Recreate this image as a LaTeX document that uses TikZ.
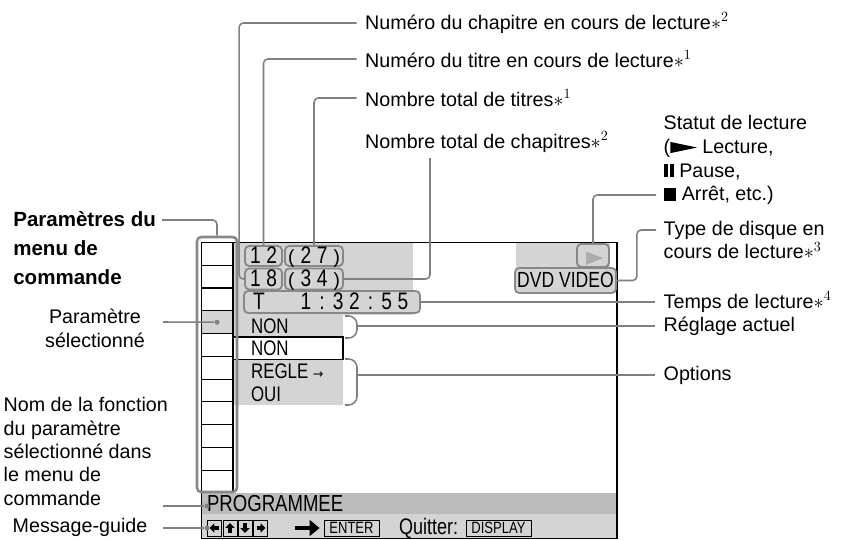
\documentclass[tikz,border=0pt]{standalone}
\usepackage{fontspec}
\usepackage{graphicx}
\setmainfont{Liberation Sans}
\newfontfamily\scrfont[FakeStretch=0.8]{Liberation Sans}
\newfontfamily\symfont{DejaVu Sans}
\usetikzlibrary{arrows.meta, calc}
\newdimen\pxu \pxu=0.025cm
\newcommand\dg[1]{\makebox[11.5pt]{#1}}
\newcommand\lpar{\scalebox{1}[0.8]{(}}
\newcommand\rpar{\scalebox{1}[0.8]{)}}
\newcommand\playsym{\tikz[baseline=0pt]\fill (0pt,0pt) -- (0pt,8pt) -- (19pt,4pt) -- cycle;}
\definecolor{lineg}{HTML}{808080}
\definecolor{scrg}{HTML}{D4D4D4}
\definecolor{barg}{HTML}{BBBBBB}
\definecolor{boxg}{HTML}{888888}

\begin{document}
\begin{tikzpicture}[x=0.025cm, y=-0.025cm,
  conn/.style={draw=lineg, line width=1.1pt, rounded corners=3pt},
  lbl/.style={anchor=west, inner xsep=6pt, inner ysep=0pt, align=left, font=\fontsize{14}{17}\selectfont},
  dispbox/.style={draw=boxg, fill=scrg, line width=1.3pt, rounded corners=3pt, inner sep=0pt, text height=11pt, text depth=1pt, font=\scrfont\fontsize{17}{18}\selectfont},
  scrtext/.style={anchor=west, inner sep=2pt, font=\scrfont\fontsize{15}{17}\selectfont},
  keybox/.style={draw=black, line width=0.6pt, fill=scrg, minimum width=14\pxu, minimum height=16\pxu, inner sep=0pt, font=\scrfont\fontsize{11.6}{12}\selectfont},
  keyarrow/.style={line width=2.2pt, -{Triangle[length=3.4pt,width=6.5pt]}},
  pin/.style={circle, fill=lineg, inner sep=0pt, minimum size=5\pxu}
]
\useasboundingbox (0,0) rectangle (841,539);

% Screen background
\fill[scrg] (233,243) rectangle (413,315);
\fill[scrg] (233,315) rectangle (343,337);
\fill[scrg] (233,359.5) rectangle (343,405);
\fill[scrg] (516,243) rectangle (610,268);
\fill[scrg] (201.5,310.8) rectangle (233,333.6);
\fill[barg] (201.5,493) rectangle (617,514);
\fill[scrg] (201.5,514) rectangle (617,539);
\draw[line width=0.8pt] (233,337) rectangle (343,359.5);
\draw[line width=1.1pt] (201.5,242.5) rectangle (617,538.5);

% Menu column
\foreach \i in {1,...,10}
  \draw[line width=0.8pt] (201.5,{242.5+\i*22.77}) -- (233,{242.5+\i*22.77});
\draw[line width=0.8pt] (233,242.5) -- (233,493);
\node[draw=boxg, line width=1.8pt, rounded corners=3pt, minimum width=40\pxu, minimum height=255\pxu] (col) at (217,364.5) {};
\node[pin] (sel) at (217,322.2) {};

% Display boxes
\node[dispbox, minimum width=37\pxu, minimum height=20\pxu] (b12) at (263.5,256) {\dg1\dg2};
\node[dispbox, minimum width=58\pxu, minimum height=20\pxu] (b27) at (314,256) {\makebox[52\pxu]{\lpar\hfill\dg2\dg7\hfill\rpar}};
\node[dispbox, minimum width=37\pxu, minimum height=21\pxu] (b18) at (263.5,279) {\dg1\dg8};
\node[dispbox, minimum width=58\pxu, minimum height=21\pxu] (b34) at (314,279) {\makebox[52\pxu]{\lpar\hfill\dg3\dg4\hfill\rpar}};
\node[dispbox, minimum width=176\pxu, minimum height=22\pxu] (tbox) at (332,302) {\makebox[158\pxu][l]{T\hfill\dg1\dg:\dg3\dg2\dg:\dg5\dg5}};
\node[dispbox, minimum width=32\pxu, minimum height=23\pxu] (play) at (593,255.5) {};
\fill[gray!65] ($(play.center)+(-7,-4)$) -- ($(play.center)+(-7,9.5)$) -- ($(play.center)+(10,2.5)$) -- cycle;
\node[dispbox, minimum width=101\pxu, minimum height=25\pxu, font=\scrfont\fontsize{15.6}{17}\selectfont] (dvd) at (565.5,280.5) {DVD VIDEO};

% Screen texts
\node[scrtext] (non1) at (248,326) {NON};
\node[scrtext] (non2) at (248,348) {NON};
\node[scrtext] (regle) at (248,371) {REGLE {\symfont\small →}};
\node[scrtext] (oui) at (248,394) {OUI};
\node[scrtext, font=\scrfont\fontsize{16.5}{18}\selectfont] (prog) at (204,504) {PROGRAMMEE};

% Guide bar
\node[keybox] (k1) at (214.5,528) {};
\node[keybox] (k2) at (230,528) {};
\node[keybox] (k3) at (245,528) {};
\node[keybox] (k4) at (260.5,528) {};
\draw[keyarrow] ([xshift=4\pxu]k1.center) -- ([xshift=-5\pxu]k1.center);
\draw[keyarrow] ([yshift=-5\pxu]k2.center) -- ([yshift=5\pxu]k2.center);
\draw[keyarrow] ([yshift=5\pxu]k3.center) -- ([yshift=-5\pxu]k3.center);
\draw[keyarrow] ([xshift=-4\pxu]k4.center) -- ([xshift=5\pxu]k4.center);
\node[keybox, minimum width=55\pxu] (enter) at (351.5,528) {ENTER};
\draw[line width=3.5pt, -{Triangle[length=7pt,width=11pt]}] ([xshift=27\pxu]k4.east) -- ([xshift=-4\pxu]enter.west);
\node[scrtext, font=\scrfont\fontsize{16}{18}\selectfont] (quit) at (396,528) {Quitter:};
\node[keybox, minimum width=65\pxu] (disp) at (498.5,528) {DISPLAY};
\node[pin] (pprog) at (207,506) {};
\node[pin] (pguide) at (207,528) {};

% Top labels
\node[lbl] (chap) at (356.5,23) {Numéro du chapitre en cours de lecture$\ast^{2}$};
\node[lbl] (titre) at (356.5,59) {Numéro du titre en cours de lecture$\ast^{1}$};
\node[lbl] (ntit) at (356.5,98) {Nombre total de titres$\ast^{1}$};
\node[lbl] (nchap) at (356.5,142) {Nombre total de chapitres$\ast^{2}$};

% Right labels
\node[lbl] (statut) at (655,160) {Statut de lecture\\(\playsym\ Lecture,\\\rule{2.8pt}{9pt}\hspace{1.6pt}\rule{2.8pt}{9pt} Pause,\\\rule{9pt}{9pt} Arrêt, etc.)};
\node[lbl] (type) at (655,240) {Type de disque en\\cours de lecture$\ast^{3}$};
\node[lbl] (temps) at (655,302) {Temps de lecture$\ast^{4}$};
\node[lbl] (regl) at (655,326) {Réglage actuel};
\node[lbl] (opts) at (655,375) {Options};

% Left labels
\node[lbl, font=\bfseries\fontsize{14.6}{20.5}\selectfont] (parm) at (4.6,248) {Paramètres du\\menu de\\commande};
\node[lbl, align=center, anchor=center] (psel) at (95,328.5) {Paramètre\\sélectionné};
\node[lbl, font=\fontsize{14}{16.6}\selectfont] (nom) at (-5,451.5) {Nom de la fonction\\du paramètre\\sélectionné dans\\le menu de\\commande};
\node[lbl, anchor=center] (guide) at (80,527) {Message-guide};

% Connectors
\draw[conn] (chap.west) -| ([xshift=-5\pxu]b18.west) -- (b18.west);
\draw[conn] (titre.west) -| (b12.north);
\draw[conn] (ntit.west) -| (b27.north);
\draw[conn] (nchap.west) ++(73.5,16) |- (b34.east);
\coordinate (statA) at (656,195);
\draw[conn] (statA) -| (play.north);
\coordinate (typeA) at (656,230);
\draw[conn] (typeA) -| ([xshift=20\pxu]dvd.east) -- (dvd.east);
\draw[conn] (temps.west) -- (tbox.east);
\coordinate (brA) at (357,326);
\coordinate (brB) at (357,375);
\draw[conn, rounded corners=6pt] (345,316) -- (357,316) -- (357,338) -- (345,338);
\draw[conn, rounded corners=6pt] (345,359) -- (357,359) -- (357,405) -- (345,405);
\draw[conn] (regl.west) -- (brA);
\draw[conn] (opts.west) -- (brB);
\coordinate (parmA) at (162,220);
\draw[conn] (parmA) -| (col.north);
\coordinate (pselA) at (163,322);
\draw[conn] (pselA) -- (sel);
\coordinate (nomA) at (163,506);
\draw[conn] (nomA) -- (pprog);
\coordinate (guideA) at (163,528);
\draw[conn] (guideA) -- (pguide);
\end{tikzpicture}
\end{document}
